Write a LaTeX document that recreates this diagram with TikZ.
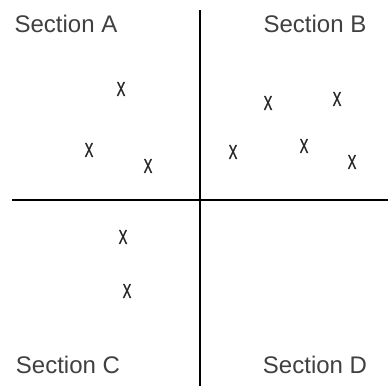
\documentclass[tikz,border=0pt]{standalone}
\usepackage{fontspec}
\setmainfont{Liberation Sans}
\newfontfamily\xfont[FakeBold=1.5]{Liberation Sans}
\begin{document}
\begin{tikzpicture}[x=1pt,y=-1pt,
  lbl/.style={text=black!75, font=\fontsize{24}{27}\selectfont, inner sep=0pt},
  mk/.style={text=black!85, font=\xfont\fontsize{20}{24}\selectfont, inner sep=0pt},
  axis/.style={line width=2pt, black}]
\useasboundingbox (0,0) rectangle (388,386);
\coordinate (vt) at (200,10);
\coordinate (vb) at (200,386);
\coordinate (hl) at (12,200);
\coordinate (hr) at (388,200);
\draw[axis] (vt) -- (vb);
\draw[axis] (hl) -- (hr);
\node[lbl] (sa) at (66,24) {Section A};
\node[lbl] (sb) at (315,24) {Section B};
\node[lbl] (sc) at (68,365) {Section C};
\node[lbl] (sd) at (315,365) {Section D};
\newcommand{\xm}{\scalebox{0.65}[1]{X}}
\node[mk] (a1) at (121,89) {\xm};
\node[mk] (a2) at (89,150) {\xm};
\node[mk] (a3) at (148,166) {\xm};
\node[mk] (b1) at (268,103) {\xm};
\node[mk] (b2) at (337,99) {\xm};
\node[mk] (b3) at (233,152) {\xm};
\node[mk] (b4) at (304,146) {\xm};
\node[mk] (b5) at (352,162) {\xm};
\node[mk] (c1) at (123,237) {\xm};
\node[mk] (c2) at (127,291) {\xm};
\end{tikzpicture}
\end{document}
